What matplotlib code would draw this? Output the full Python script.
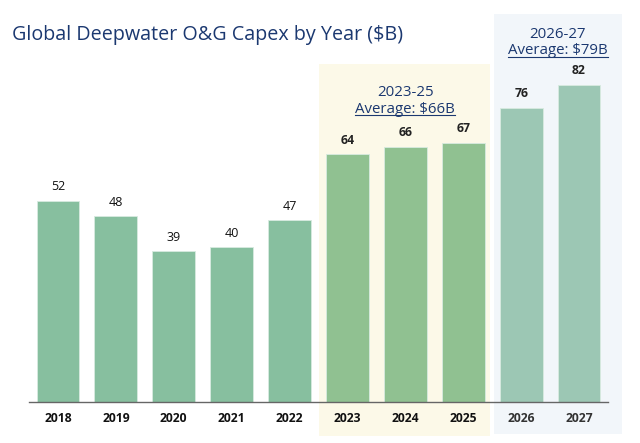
import matplotlib.pyplot as plt
from matplotlib.patches import Rectangle
from matplotlib.lines import Line2D

plt.rcParams['font.family'] = ['Open Sans', 'DejaVu Sans']

# Data
years = ["2018", "2019", "2020", "2021", "2022", "2023", "2024", "2025", "2026", "2027"]
capex = [52, 48, 39, 40, 47, 64, 66, 67, 76, 82]
groups = ["hist"] * 5 + ["mid"] * 3 + ["fcst"] * 2
group_notes = {"mid": ("2023-25", "Average: $66B"), "fcst": ("2026-27", "Average: $79B")}

bar_colors = {"hist": "#87bf9f", "mid": "#90c191", "fcst": "#9cc7b4"}
bg_colors = {"mid": "#fcf9e8", "fcst": "#f2f6fa"}
navy = "#1b3870"

H = 443
PX_PER_UNIT = 3.87  # vertical scale, pixels per $B

fig = plt.figure(figsize=(6.4, 4.43), dpi=100)
ax = fig.add_axes([29 / 640, 41 / H, 579 / 640, 402 / H])
ax.set_xlim(-0.5, 9.5)
ax.set_ylim(0, 402 / PX_PER_UNIT)


def py(pix):
    # pixel row (from top) -> data y
    return (402 - pix) / PX_PER_UNIT


x = list(range(len(years)))

# Shaded backgrounds behind the 2023-25 and 2026-27 groups
ax.add_patch(Rectangle((4.51, py(436)), 2.95, py(64) - py(436), facecolor=bg_colors["mid"],
                       edgecolor="none", clip_on=False, zorder=0))
ax.add_patch(Rectangle((7.53, py(434)), 2.21, py(14) - py(434), facecolor=bg_colors["fcst"],
                       edgecolor="none", clip_on=False, zorder=0))

ax.bar(x, capex, width=0.74, color=[bar_colors[g] for g in groups],
       edgecolor="#d8ebe0", linewidth=0.6, zorder=2)

for xi, v, g in zip(x, capex, groups):
    ax.annotate(str(v), (xi, v), xytext=(0, 7.5), textcoords="offset points",
                ha="center", va="baseline",
                fontsize=9 if g == "hist" else 8.8,
                fontweight="normal" if g == "hist" else "bold",
                color="#111111" if g == "hist" else "#222222", zorder=3)

ax.set_xticks(x)
ax.set_xticklabels(years, fontsize=8.7, fontweight="bold")
for lbl, g in zip(ax.get_xticklabels(), groups):
    lbl.set_color("#333333" if g == "fcst" else "#111111")
ax.tick_params(axis="x", length=0, pad=7.5)
ax.set_yticks([])
for s in ["left", "right", "top"]:
    ax.spines[s].set_visible(False)
ax.spines["bottom"].set_color("#666666")
ax.spines["bottom"].set_linewidth(1.0)
ax.spines["bottom"].set_zorder(3)
ax.patch.set_alpha(0)

fig.text(12 / 640, 1 - 40 / H, "Global Deepwater O&G Capex by Year ($B)",
         fontsize=14.2, color=navy, ha="left", va="baseline")

# Group averages, second line underlined
notes = [(6.0, 96, 113, group_notes["mid"]),
         (8.63, 38, 54.5, group_notes["fcst"])]
avg_lines = []
for xc, b1, b2, (l1, l2) in notes:
    ax.text(xc, py(b1), l1, ha="center", va="baseline",
            fontsize=10.8, color=navy, zorder=3)
    t = ax.text(xc, py(b2), l2, ha="center", va="baseline",
                fontsize=10.8, color=navy, zorder=3)
    avg_lines.append((t, b2))

fig.canvas.draw()
r = fig.canvas.get_renderer()
for t, b2 in avg_lines:
    bb = t.get_window_extent(r).transformed(fig.transFigure.inverted())
    yl = 1 - (b2 + 2) / H
    fig.add_artist(Line2D([bb.x0, bb.x1], [yl, yl], color=navy, linewidth=0.8))

fig.savefig("out.png", dpi=100)
